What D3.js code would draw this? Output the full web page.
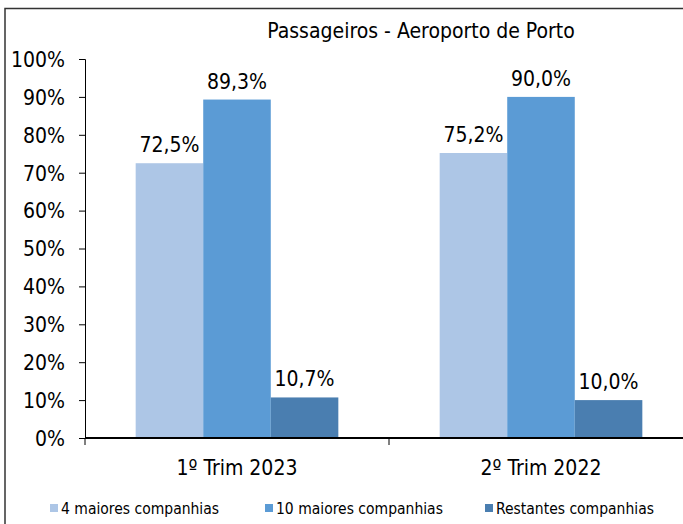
<!DOCTYPE html>
<html>
<head>
<meta charset="utf-8">
<script src="https://cdn.jsdelivr.net/npm/d3@7"></script>
<style>
body { margin: 0; background: #fff; }
text { font-family: "DejaVu Sans Condensed", "DejaVu Sans", sans-serif; fill: #000; }
</style>
</head>
<body>
<div id="svg_container"></div>
<script>
/* -----------------------
data
------------------------- */

var categories = ["1º Trim 2023", "2º Trim 2022"];
var series = ["4 maiores companhias", "10 maiores companhias", "Restantes companhias"];
var colors = ["#adc6e6", "#5b9bd5", "#4a7eb0"];
var values4 = [72.5, 75.2];
var values10 = [89.3, 90.0];
var valuesRest = [10.7, 10.0];
var yTicks = [0, 10, 20, 30, 40, 50, 60, 70, 80, 90, 100];

/* -----------------------
main variables
------------------------- */

var width = 683;
var height = 524;
var margin = {top: 59, right: -10, bottom: 86, left: 85};

var svg = d3.select("#svg_container")
	.append("svg")
	.attr("width", width)
	.attr("height", height);

// outer frame
svg.append("rect")
	.attr("x", 5)
	.attr("y", 8.5)
	.attr("width", 700)
	.attr("height", 540)
	.attr("fill", "none")
	.attr("stroke", "#333")
	.attr("stroke-width", 1.5);

svg.append("text")
	.attr("x", 421)
	.attr("y", 38)
	.attr("text-anchor", "middle")
	.style("font-size", "21px")
	.text("Passageiros - Aeroporto de Porto");

var plot = svg.append("g")
	.attr("transform", "translate(" + margin.left + "," + margin.top + ")");

var pw = width - margin.left - margin.right;
var ph = height - margin.top - margin.bottom;

var x0 = d3.scaleBand().domain(categories).range([0, pw]);
var x1 = d3.scaleBand().domain(series).range([0, x0.bandwidth()]).paddingOuter(0.75).paddingInner(0);
var y = d3.scaleLinear().domain([0, 100]).range([ph, 0]);

/* -----------------------
axes
------------------------- */

var yAxis = plot.append("g")
	.call(d3.axisLeft(y).tickValues(yTicks).tickSize(6).tickFormat(function (d) { return d + "%"; }));
yAxis.select(".domain").attr("stroke", "#000");
yAxis.selectAll("text").style("font-size", "21px").attr("x", -20).attr("dy", "0.35em");

/* -----------------------
bars
------------------------- */

var rows = categories.map(function (c, i) {
	return [values4[i], values10[i], valuesRest[i]];
});

var group = plot.selectAll(".cat")
	.data(rows)
	.enter()
	.append("g")
	.attr("class", "cat")
	.attr("transform", function (d, i) { return "translate(" + x0(categories[i]) + ",0)"; });

group.selectAll("rect")
	.data(function (d) { return d; })
	.enter()
	.append("rect")
	.attr("x", function (d, j) { return x1(series[j]); })
	.attr("y", function (d) { return y(d); })
	.attr("width", x1.bandwidth())
	.attr("height", function (d) { return ph - y(d); })
	.attr("fill", function (d, j) { return colors[j]; });

group.selectAll(".lbl")
	.data(function (d) { return d; })
	.enter()
	.append("text")
	.attr("class", "lbl")
	.attr("x", function (d, j) { return x1(series[j]) + x1.bandwidth() / 2; })
	.attr("y", function (d) { return y(d) - 11; })
	.attr("text-anchor", "middle")
	.style("font-size", "21px")
	.text(function (d) { return d.toFixed(1).replace(".", ",") + "%"; });

// x axis
var xAxis = plot.append("g")
	.attr("transform", "translate(0," + ph + ")");
xAxis.append("line")
	.attr("x1", 0).attr("x2", pw)
	.attr("stroke", "#000").attr("stroke-width", 2);
xAxis.selectAll(".tk")
	.data(d3.range(categories.length + 1))
	.enter()
	.append("line")
	.attr("x1", function (i) { return i * x0.bandwidth(); })
	.attr("x2", function (i) { return i * x0.bandwidth(); })
	.attr("y1", 0).attr("y2", 7)
	.attr("stroke", "#000");
xAxis.selectAll(".cl")
	.data(categories)
	.enter()
	.append("text")
	.attr("x", function (d) { return x0(d) + x0.bandwidth() / 2; })
	.attr("y", 37)
	.attr("text-anchor", "middle")
	.style("font-size", "21px")
	.text(function (d) { return d; });

/* -----------------------
legend
------------------------- */

var legendX = [50, 265, 485];
var legend = svg.selectAll(".leg")
	.data(series)
	.enter()
	.append("g")
	.attr("transform", function (d, i) { return "translate(" + legendX[i] + ",504)"; });
legend.append("rect")
	.attr("width", 8).attr("height", 8)
	.attr("fill", function (d, i) { return colors[i]; });
legend.append("text")
	.attr("x", 11)
	.attr("y", 9.5)
	.style("font-size", "15.5px")
	.text(function (d) { return d; });
</script>
</body>
</html>
